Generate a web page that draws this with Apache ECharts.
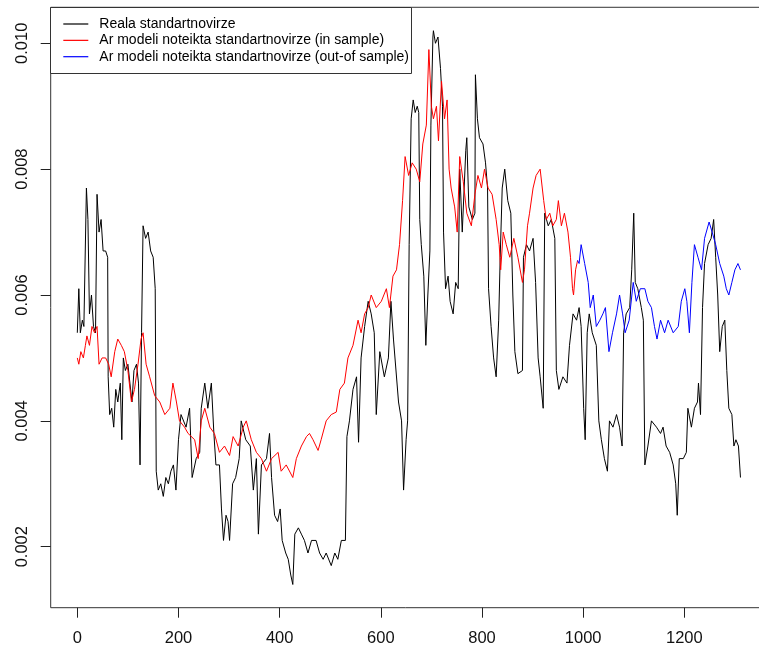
<!DOCTYPE html>
<html>
<head>
<meta charset="utf-8">
<script src="https://cdn.jsdelivr.net/npm/echarts@6/dist/echarts.min.js"></script>
<style>
  html, body { margin: 0; padding: 0; background: #fff; }
  #chart { width: 759px; height: 651px; }
</style>
</head>
<body>
<div id="chart"></div>
<script>
// Realised volatility and AR-model estimates (in sample / out of sample)
const realX = [0,3,6,10,13,18,21,24,28,32,36,39,43,47,51,56,60,61,64,68,72,76,80,85,88,91,95,100,104,108,112,117,121,124,127,130,135,140,145,150,154,156,160,165,170,175,180,185,190,195,200,205,215,222,227,235,242,245,252,258,265,270,274,281,285,289,294,298,301,307,313,320,324,333,342,348,354,358,364,374,380,384,390,396,401,405,412,417,422,426,430,437,443,449,456,463,472,479,486,492,502,509,515,522,530,533,538,545,552,556,561,568,575,581,587,591,598,607,615,620,625,635,641,645,650,653,656,660,664,668,672,675,677,680,685,689,693,697,699,703,704,708,713,718,722,724,728,733,737,743,748,753,756,761,768,770,774,781,786,787,791,795,802,807,811,813,818,823,828,833,836,840,845,851,857,861,865,871,880,882,888,894,901,906,911,915,921,924,931,937,944,947,952,960,968,973,980,987,992,996,1001,1004,1008,1012,1018,1026,1031,1036,1042,1048,1052,1059,1066,1072,1077,1080,1085,1092,1096,1100,1103,1108,1115,1119,1122,1128,1135,1145,1153,1158,1164,1171,1178,1183,1186,1190,1198,1204,1207,1214,1220,1226,1228,1232,1236,1240,1247,1253,1258,1262,1266,1270,1275,1280,1284,1288,1294,1298,1302,1307,1311];
const realY = [0.0054,0.0061,0.0054,0.0056,0.0055,0.0077,0.0072,0.0057,0.0060,0.0055,0.0054,0.0076,0.0070,0.0072,0.0067,0.0067,0.0066,0.0047,0.0041,0.0042,0.0039,0.0045,0.0043,0.0046,0.0037,0.0050,0.0048,0.0049,0.0046,0.0043,0.0048,0.0049,0.0046,0.0033,0.0054,0.0071,0.0069,0.0070,0.0067,0.0066,0.0061,0.0032,0.0029,0.0030,0.0028,0.0031,0.0030,0.0032,0.0033,0.0029,0.0037,0.0041,0.0039,0.0042,0.0031,0.0034,0.0035,0.0042,0.0046,0.0042,0.0046,0.0038,0.0033,0.0033,0.0026,0.0021,0.0025,0.0024,0.0021,0.0030,0.0031,0.0034,0.0040,0.0037,0.0036,0.0029,0.0034,0.0022,0.0033,0.0034,0.0038,0.0031,0.0025,0.0024,0.0026,0.0021,0.0019,0.0018,0.00155,0.0014,0.0022,0.0023,0.0022,0.0021,0.0019,0.0021,0.0021,0.0019,0.0018,0.0019,0.0017,0.0019,0.0018,0.0021,0.0021,0.00375,0.0040,0.0045,0.0047,0.00366,0.0050,0.0055,0.0059,0.0057,0.0054,0.0041,0.0051,0.0047,0.0050,0.0059,0.0053,0.0043,0.0040,0.0029,0.0037,0.0040,0.0068,0.0088,0.0091,0.0089,0.0090,0.0089,0.0072,0.0068,0.0063,0.0052,0.0060,0.0067,0.0087,0.0101,0.0102,0.0100,0.0101,0.0096,0.0090,0.0070,0.0061,0.0063,0.0059,0.0057,0.0062,0.0061,0.0080,0.0070,0.0083,0.0085,0.0074,0.0072,0.0073,0.0095,0.0088,0.0085,0.0084,0.0081,0.0077,0.0061,0.0055,0.0050,0.0047,0.0056,0.0066,0.0077,0.0080,0.0075,0.0073,0.0060,0.0051,0.00475,0.0048,0.0066,0.0068,0.0067,0.0069,0.0062,0.0050,0.0047,0.0042,0.0073,0.0071,0.0072,0.0069,0.0048,0.0045,0.0047,0.0046,0.0052,0.0057,0.0056,0.0058,0.0055,0.0042,0.0037,0.0054,0.0057,0.0054,0.0052,0.0040,0.0037,0.0034,0.0032,0.0040,0.0039,0.0041,0.0039,0.0036,0.0054,0.0057,0.0058,0.0064,0.0073,0.0062,0.0061,0.0058,0.0056,0.0033,0.0036,0.0040,0.0039,0.0038,0.0039,0.0036,0.0035,0.0033,0.0030,0.0025,0.0034,0.0034,0.0035,0.0042,0.0039,0.0042,0.0043,0.0046,0.0041,0.0058,0.0065,0.0068,0.0069,0.0072,0.0066,0.0060,0.0051,0.0055,0.0056,0.0048,0.0042,0.0041,0.0036,0.0037,0.0036,0.0031];

const inSampleX = [0,3,7,12,16,19,24,29,34,39,43,49,56,62,67,74,80,87,93,100,107,113,120,126,130,136,143,153,163,173,183,189,196,202,212,219,232,239,245,252,262,271,281,291,301,308,318,328,334,344,354,364,374,384,397,403,413,426,433,443,453,459,466,476,482,492,502,512,519,528,535,545,555,561,568,575,581,591,601,611,617,624,631,637,643,648,655,662,670,677,683,690,695,700,704,710,714,720,726,731,735,739,746,751,756,763,770,779,786,792,799,805,812,820,828,834,837,842,848,855,863,871,880,884,890,894,901,907,915,917,922,927,934,940,947,951,957,963,970,975,979,981,985,989];
const inSampleY = [0.0050,0.0049,0.0051,0.0050,0.0052,0.00535,0.0052,0.0055,0.0054,0.0055,0.0049,0.0050,0.0050,0.0049,0.0047,0.0051,0.0053,0.0052,0.0051,0.0048,0.0043,0.0045,0.0049,0.0053,0.0054,0.0049,0.0047,0.0044,0.0043,0.0041,0.0042,0.0046,0.0043,0.0040,0.0039,0.0038,0.0037,0.0034,0.0040,0.0042,0.0039,0.0038,0.0035,0.0036,0.00345,0.00375,0.0036,0.0039,0.0040,0.0037,0.0035,0.0034,0.0032,0.0034,0.0035,0.0032,0.0033,0.0031,0.0034,0.0036,0.00375,0.0038,0.0037,0.00353,0.0037,0.0040,0.0041,0.00414,0.0045,0.0046,0.0050,0.0052,0.0056,0.0054,0.0057,0.0058,0.0060,0.0058,0.0059,0.0061,0.0058,0.0063,0.0064,0.0068,0.0075,0.0082,0.0079,0.0081,0.0080,0.0078,0.0084,0.0087,0.0099,0.0090,0.0088,0.0090,0.00845,0.0094,0.0088,0.0091,0.0080,0.0077,0.0074,0.0070,0.0082,0.0078,0.0073,0.0071,0.0076,0.0079,0.0077,0.0080,0.0077,0.0076,0.0072,0.0068,0.0064,0.0070,0.0068,0.0066,0.0069,0.0066,0.0062,0.0064,0.0071,0.0073,0.0077,0.0079,0.0080,0.0080,0.0075,0.0072,0.0073,0.0071,0.0072,0.0075,0.0071,0.0073,0.0070,0.0066,0.0061,0.0060,0.0064,0.00655];

const outSampleX = [989,992,996,1003,1010,1014,1020,1026,1033,1039,1044,1051,1058,1066,1072,1078,1083,1091,1099,1105,1113,1122,1128,1135,1141,1146,1153,1161,1168,1178,1188,1194,1201,1205,1210,1215,1220,1227,1234,1240,1249,1255,1262,1270,1278,1283,1288,1294,1300,1306,1311];
const outSampleY = [0.00655,0.0065,0.0068,0.0065,0.0062,0.0058,0.0060,0.0055,0.0056,0.0057,0.0058,0.0051,0.0054,0.0057,0.0060,0.0057,0.0054,0.0056,0.0062,0.0059,0.0061,0.0061,0.0059,0.0058,0.0055,0.0053,0.0056,0.0054,0.0056,0.0054,0.0055,0.0059,0.0061,0.0059,0.0054,0.0062,0.0068,0.0066,0.0064,0.0069,0.00716,0.0070,0.0068,0.0065,0.0063,0.0061,0.0060,0.0062,0.0064,0.0065,0.0064];

const xTicks = [0, 200, 400, 600, 800, 1000, 1200];
const yTicks = [0.002, 0.004, 0.006, 0.008, 0.010];

const seriesNames = [
  'Reala standartnovirze',
  'Ar modeli noteikta standartnovirze (in sample)',
  'Ar modeli noteikta standartnovirze (out-of sample)'
];
const seriesColors = ['#000000', '#ff0000', '#0000ff'];

const zip = (xs, ys) => xs.map((x, i) => [x, ys[i]]);

const FONT = '"Liberation Sans", Arial, sans-serif';

const chart = echarts.init(document.getElementById('chart'), null, { renderer: 'canvas' });

// legend drawn as a framed box in the top-left corner of the plot
const legendTop = 24, legendStep = 16.35;
const legendGraphics = [{
  type: 'rect',
  shape: { x: 50.5, y: 7.5, width: 361, height: 66 },
  style: { fill: '#fff', stroke: '#333', lineWidth: 1 },
  z: 10
}];
seriesNames.forEach((name, i) => {
  const y = legendTop + i * legendStep;
  legendGraphics.push({
    type: 'line',
    shape: { x1: 63.3, y1: y, x2: 88.3, y2: y },
    style: { stroke: seriesColors[i], lineWidth: 1.2 },
    z: 11
  });
  legendGraphics.push({
    type: 'text',
    x: 99.3, y: y,
    style: { text: name, fill: '#000', font: '14px ' + FONT, textVerticalAlign: 'middle', verticalAlign: 'middle' },
    z: 11
  });
});

chart.setOption({
  animation: false,
  backgroundColor: '#fff',
  grid: {
    left: 50.7, top: 7.3, right: -10.1, bottom: 43.3,
    show: true, borderColor: '#333', borderWidth: 1,
    containLabel: false, outerBoundsMode: 'none'
  },
  xAxis: {
    type: 'value',
    min: -52.6, max: 1367.6,
    splitLine: { show: false },
    axisLine: { show: false, onZero: false },
    axisTick: { show: true, customValues: xTicks, length: 10, lineStyle: { color: '#222', width: 1 } },
    axisLabel: { customValues: xTicks, fontSize: 16.5, fontFamily: FONT, color: '#111', margin: 22,
      formatter: v => String(v) }
  },
  yAxis: {
    type: 'value',
    min: 0.001031, max: 0.010572,
    splitLine: { show: false },
    axisLine: { show: false, onZero: false },
    axisTick: { show: true, customValues: yTicks, length: 10, lineStyle: { color: '#222', width: 1 } },
    axisLabel: { customValues: yTicks, fontSize: 16.5, fontFamily: FONT, color: '#111', margin: 20, rotate: 90,
      formatter: v => v.toFixed(3) }
  },
  series: [
    { name: seriesNames[0], type: 'line', data: zip(realX, realY), showSymbol: false, symbol: 'none',
      lineStyle: { color: seriesColors[0], width: 1 }, silent: true },
    { name: seriesNames[1], type: 'line', data: zip(inSampleX, inSampleY), showSymbol: false, symbol: 'none',
      lineStyle: { color: seriesColors[1], width: 1 }, silent: true },
    { name: seriesNames[2], type: 'line', data: zip(outSampleX, outSampleY), showSymbol: false, symbol: 'none',
      lineStyle: { color: seriesColors[2], width: 1 }, silent: true }
  ],
  graphic: legendGraphics
});
</script>
</body>
</html>
